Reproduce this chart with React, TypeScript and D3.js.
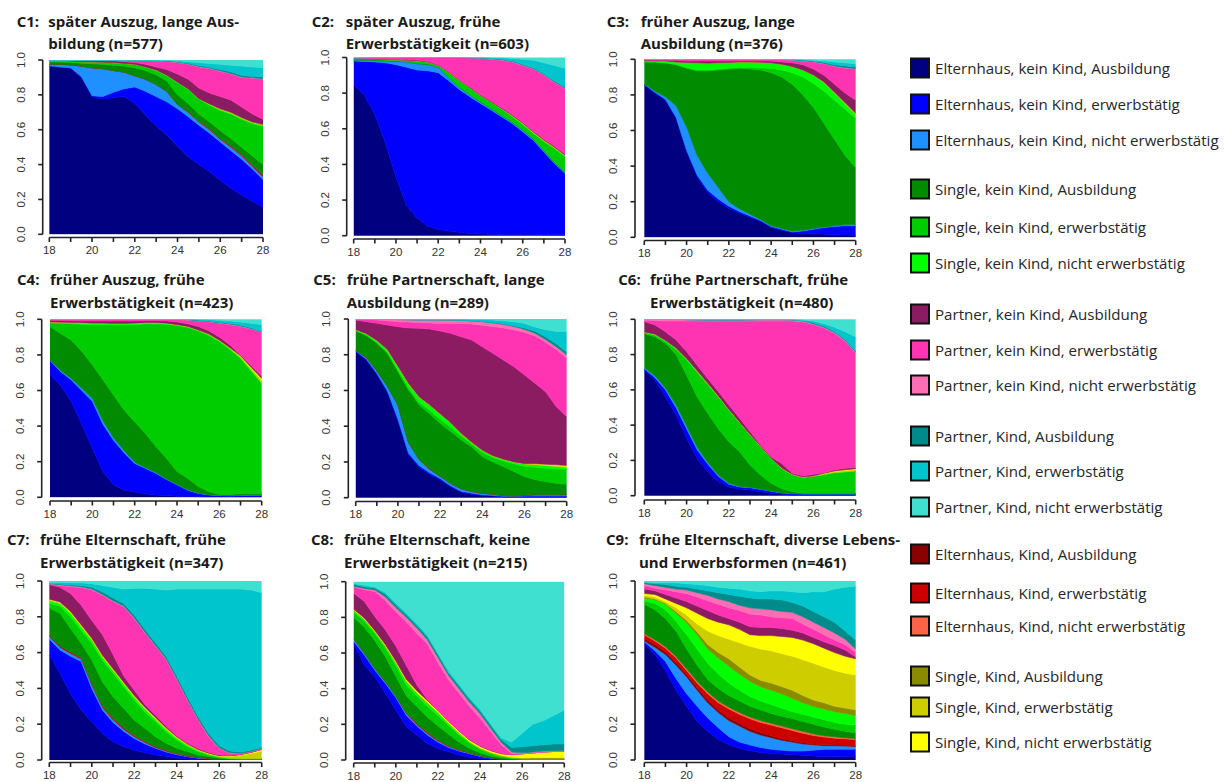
import React from "react";
import * as d3 from "d3";

// ---------- time axis (age in years, half-year steps) ----------
const AGES = [18, 18.5, 19, 19.5, 20, 20.5, 21, 21.5, 22, 22.5, 23, 23.5, 24, 24.5, 25, 25.5, 26, 26.5, 27, 27.5, 28];
const X_TICKS = [18, 19, 20, 21, 22, 23, 24, 25, 26, 27, 28];
const X_LABELS = [18, 20, 22, 24, 26, 28];
const Y_TICKS = [0, 0.2, 0.4, 0.6, 0.8, 1.0];

// ---------- states (stacking order bottom -> top) ----------
const STATE_CODES = [
  "E_kK_A", "E_kK_E", "E_kK_N",
  "E_K_A", "E_K_E", "E_K_N",
  "S_kK_A", "S_kK_E", "S_kK_N",
  "S_K_A", "S_K_E", "S_K_N",
  "P_kK_A", "P_kK_E", "P_kK_N",
  "P_K_A", "P_K_E", "P_K_N",
];
const STATE_LABELS: Record<string, string> = {
  E_kK_A: "Elternhaus, kein Kind, Ausbildung",
  E_kK_E: "Elternhaus, kein Kind, erwerbstätig",
  E_kK_N: "Elternhaus, kein Kind, nicht erwerbstätig",
  S_kK_A: "Single, kein Kind, Ausbildung",
  S_kK_E: "Single, kein Kind, erwerbstätig",
  S_kK_N: "Single, kein Kind, nicht erwerbstätig",
  P_kK_A: "Partner, kein Kind, Ausbildung",
  P_kK_E: "Partner, kein Kind, erwerbstätig",
  P_kK_N: "Partner, kein Kind, nicht erwerbstätig",
  P_K_A: "Partner, Kind, Ausbildung",
  P_K_E: "Partner, Kind, erwerbstätig",
  P_K_N: "Partner, Kind, nicht erwerbstätig",
  E_K_A: "Elternhaus, Kind, Ausbildung",
  E_K_E: "Elternhaus, Kind, erwerbstätig",
  E_K_N: "Elternhaus, Kind, nicht erwerbstätig",
  S_K_A: "Single, Kind, Ausbildung",
  S_K_E: "Single, Kind, erwerbstätig",
  S_K_N: "Single, Kind, nicht erwerbstätig",
};
const STATE_COLORS: Record<string, string> = {
  E_kK_A: "#000080", E_kK_E: "#0000FF", E_kK_N: "#1E90FF",
  S_kK_A: "#008B00", S_kK_E: "#00CD00", S_kK_N: "#00FF00",
  P_kK_A: "#8B1C62", P_kK_E: "#FF34B3", P_kK_N: "#FF6EB4",
  P_K_A: "#008B8B", P_K_E: "#00C5CD", P_K_N: "#40E0D0",
  E_K_A: "#8B0000", E_K_E: "#CD0000", E_K_N: "#FF6347",
  S_K_A: "#8B8B00", S_K_E: "#CDCD00", S_K_N: "#FFFF00",
};
const LEGEND_ORDER = [
  "E_kK_A", "E_kK_E", "E_kK_N",
  "S_kK_A", "S_kK_E", "S_kK_N",
  "P_kK_A", "P_kK_E", "P_kK_N",
  "P_K_A", "P_K_E", "P_K_N",
  "E_K_A", "E_K_E", "E_K_N",
  "S_K_A", "S_K_E", "S_K_N",
];

// ---------- data: upper edge of each state band (cumulative share) per age ----------
type Band = [string, number[]];
const ONES = AGES.map(() => 1);

const C1: Band[] = [
  ["E_kK_A", [.966,.958,.952,.90,.79,.775,.785,.79,.75,.685,.62,.57,.505,.445,.40,.36,.31,.265,.225,.19,.155]],
  ["E_kK_E", [.967,.96,.955,.905,.795,.79,.815,.835,.845,.82,.79,.76,.72,.675,.625,.58,.53,.48,.43,.375,.315]],
  ["E_kK_N", [.975,.975,.972,.965,.955,.95,.94,.93,.91,.89,.86,.82,.745,.70,.645,.60,.545,.50,.45,.39,.33]],
  ["E_K_E",  [.975,.975,.972,.965,.955,.95,.94,.93,.91,.89,.86,.82,.745,.702,.648,.604,.55,.506,.457,.398,.34]],
  ["S_kK_A", [.99,.988,.985,.982,.978,.975,.97,.965,.955,.94,.915,.88,.80,.75,.69,.645,.595,.55,.50,.45,.40]],
  ["S_kK_E", [.995,.995,.993,.99,.988,.987,.985,.98,.975,.96,.94,.91,.87,.83,.775,.74,.71,.69,.66,.635,.62]],
  ["S_kK_N", [.995,.995,.993,.99,.988,.987,.985,.98,.975,.96,.942,.913,.873,.833,.778,.744,.715,.695,.665,.64,.625]],
  ["S_K_E",  [.995,.995,.993,.99,.988,.987,.985,.98,.975,.96,.942,.913,.873,.833,.778,.748,.72,.70,.67,.645,.63]],
  ["P_kK_A", [.998,.998,.997,.996,.995,.995,.995,.99,.985,.975,.96,.945,.92,.89,.84,.81,.79,.77,.73,.69,.66]],
  ["P_kK_E", [1,1,1,1,.999,.999,.999,.999,.998,.997,.995,.99,.985,.975,.96,.95,.935,.92,.90,.895,.89]],
  ["P_kK_N", [1,1,1,1,1,1,1,1,.999,.998,.997,.993,.988,.978,.963,.953,.938,.923,.903,.898,.893]],
  ["P_K_A",  [1,1,1,1,1,1,1,1,1,1,.998,.995,.99,.982,.968,.958,.945,.932,.912,.905,.903]],
  ["P_K_E",  [1,1,1,1,1,1,1,1,1,1,1,.998,.995,.99,.985,.98,.975,.97,.965,.96,.955]],
  ["P_K_N",  ONES],
];

const C2: Band[] = [
  ["E_kK_A", [.845,.79,.68,.52,.33,.17,.10,.055,.035,.026,.019,.013,.01,.008,.007,.007,.008,.008,.006,.005,.005]],
  ["E_kK_E", [.98,.978,.975,.97,.96,.945,.93,.925,.915,.87,.82,.78,.742,.705,.667,.63,.583,.536,.47,.405,.35]],
  ["E_kK_N", [.985,.985,.983,.98,.978,.975,.965,.96,.945,.885,.83,.79,.75,.712,.673,.636,.59,.542,.476,.41,.355]],
  ["S_kK_A", [.988,.988,.986,.983,.981,.978,.968,.963,.948,.888,.833,.793,.753,.715,.676,.639,.593,.545,.479,.413,.358]],
  ["S_kK_E", [.99,.99,.99,.988,.987,.985,.982,.975,.955,.915,.87,.83,.785,.75,.71,.67,.625,.575,.53,.49,.445]],
  ["S_kK_N", [.99,.99,.99,.988,.987,.985,.982,.975,.956,.917,.872,.832,.787,.752,.712,.672,.627,.577,.532,.492,.447]],
  ["S_K_E",  [.99,.99,.99,.988,.987,.985,.982,.975,.956,.917,.872,.832,.787,.752,.713,.675,.632,.582,.537,.497,.452]],
  ["P_kK_A", [.992,.992,.992,.99,.989,.987,.984,.977,.958,.919,.874,.835,.79,.756,.717,.679,.636,.586,.541,.502,.457]],
  ["P_kK_E", [.995,.997,.998,.999,1,1,1,1,1,1,1,.998,.995,.99,.985,.975,.955,.935,.90,.86,.825]],
  ["P_kK_N", [.997,.998,.999,1,1,1,1,1,1,1,1,.999,.997,.993,.988,.978,.958,.938,.903,.863,.828]],
  ["P_K_A",  [.998,.999,1,1,1,1,1,1,1,1,1,.999,.998,.995,.99,.98,.962,.942,.908,.868,.834]],
  ["P_K_E",  [1,1,1,1,1,1,1,1,1,1,1,1,1,.999,.998,.995,.99,.985,.97,.955,.94]],
  ["P_K_N",  ONES],
];

const C3: Band[] = [
  ["E_kK_A", [.856,.81,.77,.67,.48,.34,.25,.20,.163,.135,.112,.09,.055,.04,.025,.022,.02,.018,.015,.013,.012]],
  ["E_kK_E", [.86,.815,.775,.675,.49,.35,.265,.215,.175,.145,.12,.095,.06,.045,.03,.035,.045,.055,.06,.065,.065]],
  ["E_kK_N", [.862,.82,.79,.74,.62,.46,.36,.28,.20,.16,.13,.10,.065,.05,.035,.04,.05,.058,.065,.07,.072]],
  ["S_kK_A", [.985,.985,.98,.97,.95,.935,.935,.94,.945,.95,.945,.94,.925,.90,.86,.80,.73,.64,.55,.46,.39]],
  ["S_kK_E", [.985,.985,.98,.972,.953,.94,.94,.945,.95,.955,.955,.952,.95,.94,.925,.90,.865,.82,.77,.72,.668]],
  ["S_kK_N", [.99,.99,.99,.985,.982,.98,.978,.98,.982,.985,.985,.983,.98,.972,.96,.94,.91,.87,.81,.75,.69]],
  ["S_K_E",  [.99,.99,.99,.985,.982,.98,.978,.98,.982,.985,.985,.983,.98,.972,.96,.94,.912,.873,.815,.756,.697]],
  ["P_kK_A", [.995,.995,.995,.995,.99,.99,.99,.99,.99,.99,.99,.99,.99,.985,.98,.97,.945,.91,.86,.81,.77]],
  ["P_kK_E", [1,1,1,1,1,1,1,1,1,1,1,1,1,.998,.995,.99,.985,.975,.96,.95,.945]],
  ["P_kK_N", [1,1,1,1,1,1,1,1,1,1,1,1,1,.999,.997,.992,.987,.977,.963,.953,.948]],
  ["P_K_A",  [1,1,1,1,1,1,1,1,1,1,1,1,1,.999,.998,.994,.99,.982,.97,.962,.958]],
  ["P_K_E",  [1,1,1,1,1,1,1,1,1,1,1,1,1,1,1,.998,.995,.99,.985,.98,.975]],
  ["P_K_N",  ONES],
];

const C4: Band[] = [
  ["E_kK_A", [.687,.63,.54,.41,.275,.145,.07,.04,.03,.02,.013,.01,.006,.004,.003,.002,.002,.002,.002,.002,.002]],
  ["E_kK_E", [.768,.706,.66,.60,.54,.41,.32,.25,.19,.163,.135,.10,.07,.04,.022,.013,.01,.008,.01,.012,.012]],
  ["E_kK_N", [.772,.712,.668,.612,.555,.43,.335,.262,.197,.168,.139,.103,.073,.043,.024,.015,.012,.01,.012,.014,.014]],
  ["S_kK_A", [.96,.92,.884,.82,.745,.66,.575,.49,.425,.36,.285,.22,.145,.107,.06,.032,.015,.016,.02,.022,.022]],
  ["S_kK_E", [.98,.978,.975,.972,.97,.97,.968,.968,.97,.975,.975,.972,.965,.955,.935,.91,.875,.83,.78,.71,.64]],
  ["S_kK_N", [.985,.983,.982,.98,.978,.978,.976,.976,.978,.98,.98,.978,.97,.96,.94,.915,.88,.835,.785,.715,.645]],
  ["S_K_E",  [.985,.983,.982,.98,.978,.978,.976,.976,.978,.98,.98,.978,.97,.96,.94,.917,.883,.84,.792,.725,.66]],
  ["S_K_N",  [.985,.983,.982,.98,.978,.978,.976,.976,.978,.98,.98,.978,.97,.96,.94,.917,.883,.84,.795,.73,.668]],
  ["P_kK_A", [.995,.993,.992,.99,.99,.99,.99,.99,.99,.992,.992,.99,.985,.975,.96,.935,.90,.855,.80,.74,.68]],
  ["P_kK_E", [1,1,1,1,1,1,1,1,1,1,1,1,.998,.995,.99,.985,.978,.97,.96,.945,.925]],
  ["P_kK_N", [1,1,1,1,1,1,1,1,1,1,1,1,.999,.997,.992,.988,.981,.973,.963,.948,.928]],
  ["P_K_A",  [1,1,1,1,1,1,1,1,1,1,1,1,1,1,.994,.99,.984,.977,.967,.952,.932]],
  ["P_K_E",  [1,1,1,1,1,1,1,1,1,1,1,1,1,1,1,.998,.995,.99,.985,.978,.97]],
  ["P_K_N",  ONES],
];

const C5: Band[] = [
  ["E_kK_A", [.817,.77,.69,.59,.43,.24,.17,.13,.10,.06,.03,.02,.012,.01,.005,.005,.005,.005,.005,.005,.005]],
  ["E_kK_E", [.822,.776,.697,.598,.44,.25,.18,.14,.108,.067,.036,.025,.016,.013,.008,.008,.009,.01,.01,.01,.01]],
  ["E_kK_N", [.825,.785,.71,.625,.52,.31,.215,.16,.12,.08,.05,.035,.025,.02,.012,.01,.012,.015,.015,.015,.015]],
  ["E_K_E",  [.825,.785,.71,.625,.52,.31,.215,.16,.12,.08,.05,.035,.025,.02,.012,.01,.015,.018,.018,.018,.018]],
  ["S_kK_A", [.933,.907,.864,.808,.705,.603,.52,.47,.416,.37,.323,.285,.23,.20,.174,.146,.118,.10,.09,.08,.075]],
  ["S_kK_E", [.937,.912,.87,.815,.715,.615,.535,.49,.44,.395,.345,.30,.255,.225,.205,.19,.175,.17,.165,.16,.16]],
  ["S_kK_N", [.94,.918,.88,.83,.735,.64,.565,.52,.47,.42,.36,.31,.265,.235,.215,.20,.19,.185,.18,.175,.17]],
  ["S_K_E",  [.94,.918,.88,.83,.735,.64,.565,.52,.47,.42,.36,.31,.265,.235,.215,.20,.19,.188,.184,.18,.176]],
  ["S_K_N",  [.94,.918,.88,.83,.735,.64,.565,.52,.47,.42,.36,.31,.265,.235,.215,.20,.19,.19,.187,.184,.18]],
  ["P_kK_A", [.994,.985,.976,.966,.957,.95,.948,.944,.933,.92,.90,.882,.845,.808,.77,.733,.687,.64,.593,.51,.453]],
  ["P_kK_E", [1,.998,.995,.99,.985,.983,.98,.978,.975,.975,.975,.972,.965,.958,.95,.94,.925,.905,.87,.83,.78]],
  ["P_kK_N", [1,1,1,.998,.997,.996,.995,.995,.995,.994,.993,.99,.985,.978,.97,.958,.942,.92,.885,.845,.80]],
  ["P_K_A",  [1,1,1,.998,.997,.996,.995,.995,.995,.994,.993,.99,.986,.98,.973,.962,.95,.932,.90,.862,.815]],
  ["P_K_E",  [1,1,1,1,1,1,1,1,1,1,1,.999,.998,.995,.99,.985,.975,.955,.94,.93,.93]],
  ["P_K_N",  ONES],
];

const C6: Band[] = [
  ["E_kK_A", [.713,.656,.56,.457,.325,.21,.136,.08,.05,.038,.032,.023,.013,.008,.005,.005,.005,.005,.005,.005,.005]],
  ["E_kK_E", [.72,.67,.60,.50,.38,.26,.18,.11,.065,.05,.045,.035,.025,.015,.012,.01,.01,.01,.01,.01,.01]],
  ["E_kK_N", [.725,.68,.61,.515,.395,.275,.19,.118,.07,.054,.048,.038,.027,.017,.013,.011,.011,.011,.011,.011,.011]],
  ["S_kK_A", [.92,.90,.864,.80,.684,.56,.467,.38,.306,.25,.174,.117,.07,.04,.023,.013,.012,.012,.012,.012,.012]],
  ["S_kK_E", [.925,.91,.875,.83,.77,.70,.63,.56,.485,.415,.345,.28,.21,.155,.12,.105,.11,.12,.13,.135,.14]],
  ["S_kK_N", [.928,.915,.88,.837,.778,.708,.637,.565,.489,.418,.347,.282,.212,.157,.121,.106,.111,.121,.131,.136,.141]],
  ["S_K_E",  [.928,.915,.88,.837,.778,.708,.637,.565,.489,.418,.347,.282,.212,.157,.121,.106,.111,.125,.137,.143,.148]],
  ["S_K_N",  [.928,.915,.88,.837,.778,.708,.637,.565,.489,.418,.347,.282,.212,.157,.121,.106,.111,.127,.14,.147,.153]],
  ["P_kK_A", [.987,.968,.93,.883,.817,.74,.665,.59,.514,.44,.363,.287,.22,.183,.127,.113,.12,.13,.146,.155,.16]],
  ["P_kK_E", [.995,.993,.99,.99,.99,.99,.99,.99,.99,.99,.99,.99,.99,.99,.99,.985,.97,.95,.92,.875,.81]],
  ["P_kK_N", [1,1,1,1,.998,.997,.996,.996,.996,.996,.997,.998,.998,.998,.997,.99,.975,.955,.925,.88,.815]],
  ["P_K_A",  [1,1,1,1,.998,.997,.996,.996,.996,.996,.997,.998,.998,.998,.997,.993,.98,.96,.93,.885,.82]],
  ["P_K_E",  [1,1,1,1,1,1,1,1,1,1,1,1,1,1,.999,.995,.99,.975,.955,.93,.90]],
  ["P_K_N",  ONES],
];

const C7: Band[] = [
  ["E_kK_A", [.587,.484,.372,.28,.214,.149,.102,.075,.056,.04,.028,.019,.011,.006,.002,.002,.002,.002,.002,.002,.002]],
  ["E_kK_E", [.674,.615,.58,.55,.40,.28,.21,.16,.12,.09,.065,.045,.03,.018,.01,.006,.004,.003,.003,.003,.003]],
  ["E_kK_N", [.69,.63,.595,.565,.42,.295,.225,.172,.13,.098,.07,.05,.033,.02,.012,.008,.005,.004,.004,.004,.004]],
  ["E_K_E",  [.698,.638,.603,.573,.428,.303,.233,.18,.137,.104,.076,.055,.037,.024,.015,.01,.006,.005,.005,.005,.005]],
  ["S_kK_A", [.848,.82,.735,.652,.559,.437,.354,.289,.223,.177,.13,.093,.065,.047,.028,.019,.01,.006,.005,.005,.005]],
  ["S_kK_E", [.875,.86,.80,.726,.652,.559,.484,.41,.335,.27,.214,.158,.112,.074,.047,.028,.015,.008,.006,.006,.006]],
  ["S_kK_N", [.89,.875,.82,.745,.67,.575,.50,.425,.35,.285,.228,.17,.122,.082,.053,.032,.018,.01,.008,.008,.008]],
  ["S_K_E",  [.895,.88,.827,.752,.677,.582,.507,.432,.357,.292,.235,.177,.128,.087,.057,.036,.022,.02,.027,.037,.05]],
  ["S_K_N",  [.898,.883,.83,.755,.68,.585,.51,.435,.36,.295,.238,.18,.13,.089,.059,.038,.024,.023,.03,.042,.058]],
  ["P_kK_A", [.98,.965,.93,.865,.78,.70,.59,.47,.39,.31,.25,.19,.135,.095,.065,.042,.028,.025,.032,.044,.06]],
  ["P_kK_E", [.983,.975,.968,.963,.95,.92,.885,.855,.79,.71,.635,.56,.45,.335,.225,.13,.065,.037,.035,.046,.062]],
  ["P_kK_N", [.985,.98,.973,.968,.955,.925,.89,.86,.795,.715,.64,.565,.455,.34,.23,.135,.068,.04,.038,.048,.064]],
  ["P_K_A",  [.986,.983,.978,.975,.965,.94,.905,.875,.81,.73,.655,.58,.47,.355,.245,.15,.08,.05,.045,.055,.07]],
  ["P_K_E",  [.99,.992,.99,.99,.985,.975,.965,.955,.96,.96,.955,.95,.955,.955,.955,.955,.955,.955,.955,.95,.935]],
  ["P_K_N",  ONES],
];

const C8: Band[] = [
  ["E_kK_A", [.654,.533,.467,.374,.28,.187,.14,.093,.065,.047,.028,.015,.008,.004,0,0,0,0,0,0,0]],
  ["E_kK_E", [.665,.59,.505,.43,.35,.25,.19,.14,.10,.07,.05,.035,.02,.01,.005,.002,0,0,0,0,0]],
  ["E_kK_N", [.68,.60,.515,.44,.36,.26,.198,.148,.107,.076,.055,.039,.023,.012,.006,.003,.001,.001,.001,.001,.001]],
  ["E_K_E",  [.68,.60,.515,.44,.36,.265,.205,.155,.112,.08,.058,.041,.024,.013,.006,.003,.002,.002,.002,.002,.002]],
  ["S_kK_A", [.80,.745,.67,.58,.47,.36,.30,.24,.19,.145,.10,.065,.04,.022,.012,.006,.003,.003,.003,.003,.003]],
  ["S_kK_E", [.83,.78,.71,.63,.53,.42,.36,.30,.25,.195,.14,.095,.06,.035,.02,.01,.006,.005,.005,.005,.005]],
  ["S_kK_N", [.84,.79,.72,.64,.545,.44,.375,.32,.265,.205,.15,.10,.065,.04,.023,.012,.007,.006,.006,.006,.006]],
  ["S_K_A",  [.84,.79,.72,.64,.545,.44,.375,.32,.265,.205,.15,.10,.065,.04,.023,.013,.01,.011,.011,.011,.011]],
  ["S_K_E",  [.842,.793,.723,.643,.55,.445,.38,.325,.27,.21,.155,.105,.07,.045,.028,.017,.013,.014,.014,.014,.014]],
  ["S_K_N",  [.845,.797,.727,.648,.555,.452,.388,.333,.278,.218,.162,.112,.077,.052,.035,.03,.035,.04,.045,.048,.05]],
  ["P_kK_A", [.935,.89,.805,.73,.64,.53,.42,.34,.28,.22,.165,.115,.08,.055,.037,.03,.035,.04,.045,.048,.05]],
  ["P_kK_E", [.97,.955,.945,.895,.83,.775,.71,.65,.545,.45,.375,.30,.235,.16,.085,.037,.035,.04,.045,.048,.05]],
  ["P_kK_N", [.975,.962,.955,.915,.855,.80,.74,.675,.575,.475,.40,.325,.26,.18,.10,.045,.04,.045,.05,.052,.055]],
  ["P_K_A",  [.985,.972,.965,.93,.87,.815,.755,.69,.59,.49,.415,.34,.275,.195,.115,.07,.075,.08,.085,.09,.09]],
  ["P_K_E",  [.99,.98,.97,.94,.88,.825,.765,.70,.60,.50,.425,.35,.285,.205,.125,.10,.15,.20,.22,.25,.28]],
  ["P_K_N",  ONES],
];

const C9: Band[] = [
  ["E_kK_A", [.65,.59,.50,.39,.30,.215,.16,.115,.085,.065,.052,.042,.037,.034,.03,.026,.022,.02,.018,.02,.02]],
  ["E_kK_E", [.66,.61,.55,.455,.37,.30,.235,.18,.13,.10,.084,.07,.06,.055,.05,.05,.055,.06,.06,.06,.06]],
  ["E_kK_N", [.665,.63,.59,.53,.465,.39,.32,.265,.22,.19,.16,.14,.125,.11,.10,.09,.085,.08,.08,.078,.075]],
  ["E_K_A",  [.68,.645,.605,.545,.478,.405,.335,.28,.235,.205,.175,.153,.135,.12,.108,.097,.09,.085,.084,.082,.08]],
  ["E_K_E",  [.70,.665,.625,.57,.50,.43,.37,.32,.285,.255,.23,.21,.195,.18,.165,.15,.137,.128,.122,.118,.115]],
  ["E_K_N",  [.705,.672,.632,.578,.51,.44,.38,.33,.295,.265,.24,.22,.205,.19,.175,.16,.146,.136,.13,.124,.12]],
  ["S_kK_A", [.87,.84,.79,.72,.62,.53,.45,.40,.36,.33,.30,.28,.26,.245,.232,.215,.20,.185,.172,.16,.15]],
  ["S_kK_E", [.89,.875,.84,.775,.70,.62,.54,.48,.43,.39,.355,.33,.31,.29,.27,.255,.24,.225,.21,.20,.195]],
  ["S_kK_N", [.905,.895,.87,.82,.77,.70,.62,.57,.525,.48,.44,.41,.39,.37,.345,.32,.30,.285,.27,.26,.25]],
  ["S_K_A",  [.91,.90,.875,.83,.78,.715,.645,.60,.565,.52,.475,.445,.43,.41,.39,.36,.335,.32,.30,.29,.28]],
  ["S_K_E",  [.92,.91,.885,.85,.81,.76,.72,.695,.675,.655,.635,.62,.61,.595,.58,.56,.54,.52,.50,.485,.475]],
  ["S_K_N",  [.93,.925,.90,.875,.85,.82,.79,.77,.755,.73,.70,.695,.695,.69,.685,.67,.65,.625,.60,.58,.565]],
  ["P_kK_A", [.955,.945,.925,.905,.885,.86,.835,.81,.79,.77,.745,.74,.74,.735,.725,.71,.685,.66,.64,.615,.575]],
  ["P_kK_E", [.975,.96,.95,.94,.93,.91,.89,.87,.85,.835,.815,.81,.80,.795,.79,.76,.73,.70,.67,.645,.60]],
  ["P_kK_N", [.985,.975,.965,.955,.95,.935,.92,.90,.885,.865,.85,.845,.84,.83,.825,.80,.77,.74,.71,.675,.62]],
  ["P_K_A",  [.99,.985,.98,.97,.965,.955,.945,.935,.925,.915,.905,.90,.90,.895,.88,.86,.83,.80,.77,.72,.67]],
  ["P_K_E",  [.995,.99,.99,.99,.985,.98,.975,.965,.96,.955,.945,.94,.945,.945,.94,.935,.94,.94,.955,.965,.97]],
  ["P_K_N",  ONES],
];

const PANEL_IDS = ["C1", "C2", "C3", "C4", "C5", "C6", "C7", "C8", "C9"];
const PANEL_TITLE1 = [
  "später Auszug, lange Aus-", "später Auszug, frühe", "früher Auszug, lange",
  "früher Auszug, frühe", "frühe Partnerschaft, lange", "frühe Partnerschaft, frühe",
  "frühe Elternschaft, frühe", "frühe Elternschaft, keine", "frühe Elternschaft, diverse Lebens-",
];
const PANEL_TITLE2 = [
  "bildung (n=577)", "Erwerbstätigkeit (n=603)", "Ausbildung (n=376)",
  "Erwerbstätigkeit (n=423)", "Ausbildung (n=289)", "Erwerbstätigkeit (n=480)",
  "Erwerbstätigkeit (n=347)", "Erwerbstätigkeit (n=215)", "und Erwerbsformen (n=461)",
];
const PANEL_DATA = [C1, C2, C3, C4, C5, C6, C7, C8, C9];

// ---------- layout (pixels) ----------
type Box = { left: number; right: number; top: number; bottom: number; ax: number; ay: number; tx: number; toff: number; ty: number };
const LAYOUT: Box[] = [
  { left: 49.3, right: 263, top: 60, bottom: 234.3, ax: 42.7, ay: 237.5, tx: 16.7, toff: 31.6, ty: 26.7 },
  { left: 353.7, right: 565, top: 57.5, bottom: 235.7, ax: 346.7, ay: 239, tx: 311.7, toff: 34, ty: 26.7 },
  { left: 644.3, right: 855.7, top: 59.3, bottom: 237.3, ax: 635, ay: 240.5, tx: 606.7, toff: 34, ty: 26.7 },
  { left: 50, right: 261.7, top: 319.3, bottom: 497.3, ax: 41.7, ay: 501, tx: 17, toff: 33, ty: 285 },
  { left: 355.7, right: 566.7, top: 319, bottom: 497.7, ax: 348.3, ay: 501.5, tx: 313.3, toff: 33.4, ty: 285 },
  { left: 644.3, right: 855.7, top: 319.3, bottom: 495.7, ax: 635, ay: 500, tx: 618.3, toff: 31.7, ty: 285 },
  { left: 49.3, right: 261.7, top: 581, bottom: 760, ax: 41.7, ay: 762.5, tx: 7, toff: 33, ty: 545 },
  { left: 353.7, right: 564.3, top: 581.7, bottom: 760, ax: 345.7, ay: 763, tx: 311, toff: 33, ty: 545 },
  { left: 644.3, right: 855.7, top: 581, bottom: 760, ax: 635, ay: 762.5, tx: 606, toff: 33, ty: 545 },
];
const LEGEND_Y = [68, 104, 140, 189, 227, 263, 314, 350, 385, 436, 471, 507, 554, 593, 626, 676, 707, 742];

const TITLE_FONT = "'Open Sans', Lato, 'DejaVu Sans', sans-serif";
const LEGEND_FONT = "'Open Sans', Lato, 'DejaVu Sans', sans-serif";
const TICK_FONT = "'Liberation Sans', Arial, sans-serif";

function Panel({ idx }: { idx: number }) {
  const box = LAYOUT[idx];
  const bands = PANEL_DATA[idx];
  const id = PANEL_IDS[idx];
  const x = d3.scaleLinear().domain([18, 28]).range([box.left, box.right]);
  const y = d3.scaleLinear().domain([0, 1]).range([box.bottom, box.top]);

  const rows = AGES.map((age, i) => {
    const r: any = { age };
    let prev = 0;
    for (const code of STATE_CODES) {
      const b = bands.find((bb) => bb[0] === code);
      if (b) {
        const top = Math.max(prev, b[1][i]);
        r[code] = top - prev;
        prev = top;
      } else r[code] = 0;
    }
    return r;
  });
  const series = d3.stack<any>().keys(STATE_CODES)(rows);
  const area = d3
    .area<any>()
    .x((d) => x(d.data.age))
    .y0((d) => y(d[0]))
    .y1((d) => y(d[1]))
    .curve(d3.curveLinear);

  const clipId = `clip-${id}`;
  return (
    <g>
      <defs>
        <clipPath id={clipId}>
          <rect x={box.left} y={box.top} width={box.right - box.left} height={box.bottom - box.top} />
        </clipPath>
      </defs>
      <g clipPath={`url(#${clipId})`}>
        {series.map((s) => {
          const has = s.some((d) => d[1] - d[0] > 0);
          if (!has) return null;
          const c = STATE_COLORS[s.key];
          return <path key={s.key} d={area(s) || ""} fill={c} stroke={c} strokeWidth={0.6} />;
        })}
      </g>
      {/* y axis */}
      <line x1={box.ax} x2={box.ax} y1={y(0)} y2={y(1)} stroke="#222" strokeWidth={1.6} />
      {Y_TICKS.map((t) => (
        <g key={t}>
          <line x1={box.ax - 4.5} x2={box.ax} y1={y(t)} y2={y(t)} stroke="#222" strokeWidth={1.6} />
          <text
            transform={`translate(${box.ax - 18},${y(t)}) rotate(-90)`}
            textAnchor="middle"
            fontFamily={TICK_FONT}
            fontSize={11.5}
            fill="#333"
          >
            {t.toFixed(1)}
          </text>
        </g>
      ))}
      {/* x axis */}
      <line x1={x(18)} x2={x(28)} y1={box.ay} y2={box.ay} stroke="#222" strokeWidth={1.6} />
      {X_TICKS.map((t) => (
        <line key={t} x1={x(t)} x2={x(t)} y1={box.ay} y2={box.ay + 4.5} stroke="#222" strokeWidth={1.6} />
      ))}
      {X_LABELS.map((t) => (
        <text key={t} x={x(t)} y={box.ay + 16.5} textAnchor="middle" fontFamily={TICK_FONT} fontSize={11.5} fill="#333">
          {t}
        </text>
      ))}
      {/* title */}
      <g fontFamily={TITLE_FONT} fontWeight={700} fontSize={15} fill="#1a1a1a">
        <text x={box.tx} y={box.ty}>{id}:</text>
        <text x={box.tx + box.toff} y={box.ty}>{PANEL_TITLE1[idx]}</text>
        <text x={box.tx + box.toff} y={box.ty + 22.6}>{PANEL_TITLE2[idx]}</text>
      </g>
    </g>
  );
}

function Legend() {
  return (
    <g fontFamily={LEGEND_FONT} fontSize={15.1} fill="#262626">
      {LEGEND_ORDER.map((code, i) => (
        <g key={code}>
          <rect x={911} y={LEGEND_Y[i] - 9.5} width={18} height={19} fill={STATE_COLORS[code]} stroke="#111" strokeWidth={2} />
          <text x={935} y={LEGEND_Y[i] + 5.5}>{STATE_LABELS[code]}</text>
        </g>
      ))}
    </g>
  );
}

export default function App() {
  return (
    <svg width={1226} height={782} style={{ position: "absolute", left: 0, top: 0, background: "#fff" }}>
      <rect x={0} y={0} width={1226} height={782} fill="#fff" />
      {PANEL_IDS.map((_, i) => (
        <Panel key={i} idx={i} />
      ))}
      <Legend />
    </svg>
  );
}
